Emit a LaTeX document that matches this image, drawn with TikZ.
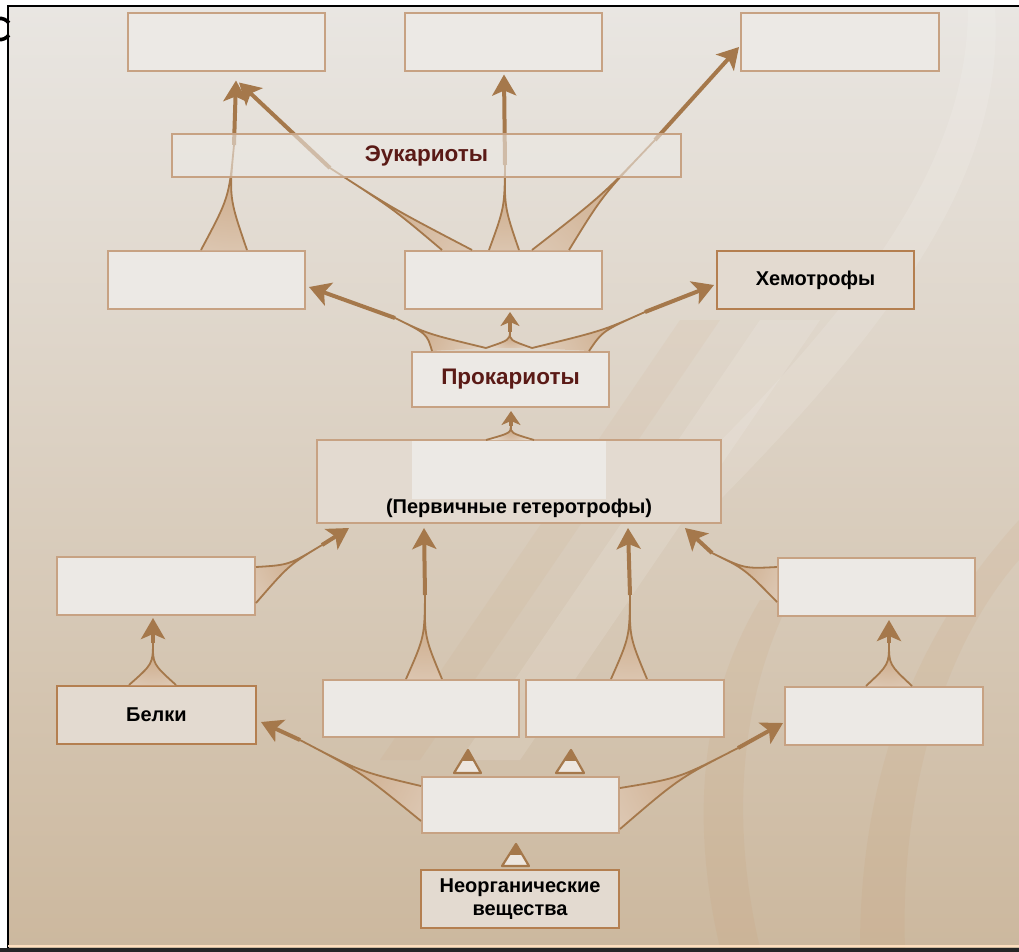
\documentclass[tikz,border=0pt]{standalone}
\usepackage{fontspec}
\setmainfont{Liberation Sans}
\usetikzlibrary{calc,arrows.meta}
\definecolor{bgtop}{HTML}{E9E6E2}
\definecolor{bgmid}{HTML}{DED4C7}
\definecolor{bgbot}{HTML}{CCB89E}
\definecolor{arrowc}{HTML}{A5784B}
\definecolor{boxfill}{HTML}{ECE9E5}
\definecolor{boxline}{HTML}{C7A283}
\definecolor{lblfill}{HTML}{E3DAD0}
\definecolor{lblline}{HTML}{B47F50}
\definecolor{maroon}{HTML}{5A1A16}
\definecolor{flarefill}{HTML}{EDE6DF}
\definecolor{flaredark}{HTML}{C7A07A}
\tikzset{
 boxnode/.style={draw=boxline, fill=boxfill, line width=2pt, inner sep=0pt,
   minimum width=197pt, minimum height=58pt,
   font=\bfseries\fontsize{20}{23}\selectfont, align=center},
 lblnode/.style={boxnode, fill=lblfill, draw=lblline},
 titlenode/.style={boxnode, text=maroon, font=\bfseries\fontsize{22.5}{26}\selectfont},
 flareline/.style={draw=arrowc, line width=1.8pt, line join=round},
 shaft/.style={draw=arrowc, line width=4pt, -{Stealth[length=21pt,width=24pt,inset=5pt]}},
 shortshaft/.style={draw=arrowc, line width=3.5pt, -{Stealth[length=14pt,width=19pt,inset=4pt]}}
}
\newcommand{\flarearrow}[5][shaft]{%
  \coordinate (fa) at #2;
  \coordinate (fb) at #3;
  \coordinate (fn) at #4;
  \coordinate (ft) at #5;
  \coordinate (fm) at ($(fa)!0.5!(fb)$);
  \coordinate (fc) at ($(fn)!0.5!(fm)$);
  \begin{scope}
    \clip (fa) .. controls (fc) .. (fn) .. controls (fc) .. (fb) -- cycle;
    \fill[flarefill] (fa) .. controls (fc) .. (fn) .. controls (fc) .. (fb) -- cycle;
    \shade[inner color=flaredark, outer color=flarefill]
      let \p1=($(fm)-(fn)$), \n1={veclen(\x1,\y1)} in (fn) circle ({1.9*\n1});
  \end{scope}
  \draw[flareline] (fa) .. controls (fc) .. (fn) .. controls (fc) .. (fb);
  \draw[#1] (fn) -- (ft);
}
\newcommand{\smallflare}[3]{%
  \coordinate (fa) at #1;
  \coordinate (fb) at #2;
  \coordinate (fn) at #3;
  \fill[flarefill] (fa) -- (fn) -- (fb) -- cycle;
  \begin{scope}
    \clip (fa) -- (fn) -- (fb) -- cycle;
    \fill[arrowc] ($(fn)+(-20,-5)$) rectangle ($(fn)+(20,11)$);
  \end{scope}
  \draw[flareline, line width=2.2pt] (fa) -- (fn) -- (fb) -- cycle;
}
\begin{document}
\begin{tikzpicture}[x=1pt,y=-1pt]
\useasboundingbox (0,0) rectangle (1019,952);
% background
\fill[white] (0,0) rectangle (1019,952);
\shade[top color=bgtop, middle color=bgmid, bottom color=bgbot] (8,6) rectangle (1019,948);
% decorative swooshes
\fill[white, opacity=0.12] (995,8) .. controls (1005,170) and (900,320) .. (700,520)
  -- (640,520) .. controls (850,320) and (968,170) .. (968,8) -- cycle;
\fill[white, opacity=0.12] (760,320) -- (820,320) -- (520,760) -- (460,760) -- cycle;
\fill[brown, opacity=0.05] (680,320) -- (720,320) -- (420,760) -- (380,760) -- cycle;
\fill[brown, opacity=0.07] (790,600) .. controls (740,700) and (730,820) .. (760,948)
  -- (720,948) .. controls (690,820) and (700,700) .. (760,600) -- cycle;
\fill[brown, opacity=0.07] (1019,560) .. controls (940,650) and (900,800) .. (905,948)
  -- (860,948) .. controls (860,800) and (900,650) .. (1019,520) -- cycle;
% fragment of a cut-off glyph at the top left
\draw[black, line width=3.6pt] (-2,18.5) .. controls (3,18) and (6,19.5) .. (9,23);
\draw[black, line width=3.6pt] (-2,39.5) .. controls (3,40) and (6,38.5) .. (9,35);
% frame
\draw[black, line width=2.5pt] (8,952) -- (8,6) -- (1019,6);
\draw[orange!25!white, line width=1.5pt] (8,946) -- (1019,946);
\fill[black!85] (0,948) rectangle (1019,952);

% boxes
\node[boxnode] (t1) at (226.5,42.5) {};
\node[boxnode] (t2) at (503.5,42.5) {};
\node[boxnode, minimum width=198pt] (t3) at (840,42.5) {};
\node[boxnode] (l3) at (206.5,280) {};
\node[boxnode] (m3) at (503.5,280) {};
\node[lblnode] (chem) at (815.5,280) {Хемотрофы};
\node[titlenode, minimum height=55pt] (prok) at (510.5,379.5) {Прокариоты};
\node[boxnode, fill=lblfill, draw=none, minimum width=402pt, minimum height=81pt] (perv) at (519,481.5) {};
\fill[boxfill] ($(perv.north west)+(95,1)$) rectangle ($(perv.north west)+(289,59)$);
\draw[boxline, line width=2pt] (perv.north west) rectangle (perv.south east);
\node[font=\bfseries\fontsize{20}{23}\selectfont, inner sep=0pt] (pervtxt) at (519,508) {(Первичные гетеротрофы)};
\node[boxnode, minimum width=198pt] (l5) at (156,586) {};
\node[boxnode] (r5) at (876.5,587) {};
\node[lblnode, minimum width=199pt] (bel) at (156.5,715) {Белки};
\node[boxnode, minimum width=196pt, minimum height=57pt] (m6a) at (421,708.5) {};
\node[boxnode, minimum width=198pt, minimum height=57pt] (m6b) at (625,708.5) {};
\node[boxnode, minimum width=198pt] (r6) at (884,716) {};
\node[boxnode, minimum height=56pt] (c7) at (520.5,805) {};
\node[lblnode, minimum width=198pt] (neo) at (520,899) {Неорганические\\вещества};

% arrows
\flarearrow{($(l3.north west)+(94,0)$)}{($(l3.north west)+(140,0)$)}{(234,145)}{($(t1.south west)+(109,8)$)}
\flarearrow{($(m3.north west)+(38,0)$)}{($(m3.north west)+(68,0)$)}{(330,168)}{($(t1.south west)+(112,10)$)}
\flarearrow{($(m3.north west)+(85,0)$)}{($(m3.north west)+(115,0)$)}{(505,165)}{($(t2.south west)+(100,2)$)}
\flarearrow{($(m3.north west)+(128,0)$)}{($(m3.north west)+(165,0)$)}{(655,140)}{($(t3.west)+(-1,4.5)$)}
\flarearrow{($(prok.north west)+(21,0)$)}{($(prok.north west)+(75,-3)$)}{(395,318)}{($(l3.east)+(3,7)$)}
\flarearrow[shortshaft]{($(prok.north west)+(75,-3)$)}{($(prok.north west)+(121,-3)$)}{(510,332)}{($(m3.south)+(6.5,2)$)}
\flarearrow{($(prok.north west)+(121,-3)$)}{($(prok.north west)+(178,0)$)}{(645,312)}{($(chem.west)+(-2,5)$)}
\flarearrow[shortshaft]{($(perv.north west)+(169,0)$)}{($(perv.north west)+(217,0)$)}{(511,426)}{($(prok.south)+(0.5,3)$)}
\flarearrow{($(l5.north east)+(0,11)$)}{($(l5.north east)+(0,47)$)}{(322,545)}{($(perv.south west)+(32,5)$)}
\flarearrow{($(m6a.north west)+(84,0)$)}{($(m6a.north west)+(120,0)$)}{(425,595)}{($(perv.south west)+(107,5)$)}
\flarearrow{($(m6b.north west)+(86,0)$)}{($(m6b.north west)+(122,0)$)}{(630,595)}{($(perv.south west)+(311,5)$)}
\flarearrow{($(r5.north west)+(0,10)$)}{($(r5.north west)+(0,45)$)}{(712,553)}{($(perv.south east)+(-36,5)$)}
\flarearrow{($(bel.north west)+(73,0)$)}{($(bel.north west)+(120,0)$)}{(153,643)}{($(l5.south)+(-3,2)$)}
\flarearrow{($(r6.north west)+(82,0)$)}{($(r6.north west)+(128,0)$)}{(889,643)}{($(r5.south)+(12.5,3)$)}
\flarearrow{($(c7.north west)+(0,10)$)}{($(c7.north west)+(0,45)$)}{(300,740)}{($(bel.east)+(4,7)$)}
\flarearrow{($(c7.north east)+(0,12)$)}{($(c7.north east)+(0,53)$)}{(738,748)}{($(r6.west)+(-1,7)$)}
\smallflare{($(c7.north west)+(33,-3)$)}{($(c7.north west)+(60,-3)$)}{($(m6a.south)+(47,12)$)}
\smallflare{($(c7.north west)+(135,-3)$)}{($(c7.north west)+(163,-3)$)}{($(m6b.south)+(-54,12)$)}
\smallflare{($(neo.north west)+(82,-3)$)}{($(neo.north west)+(109,-3)$)}{($(c7.south)+(-4.5,10)$)}

% Eukaryotes band drawn over the arrows
\node[titlenode, minimum width=509pt, minimum height=43pt, fill opacity=0.6, text opacity=1] (euk) at (426.5,155.5) {Эукариоты};
\end{tikzpicture}
\end{document}
